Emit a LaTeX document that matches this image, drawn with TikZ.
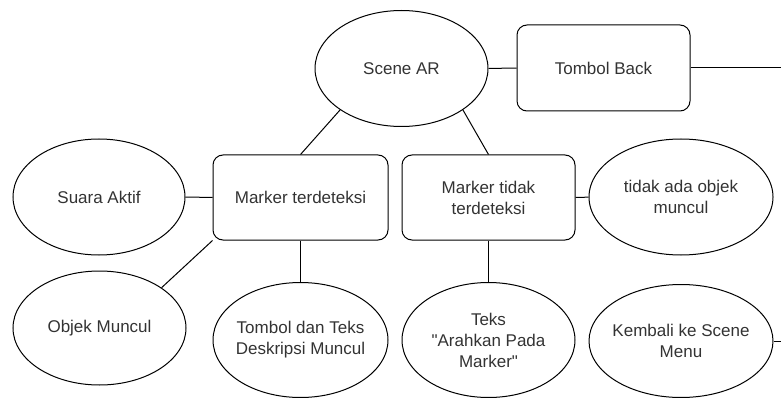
\documentclass[tikz,border=0pt]{standalone}
\usepackage{fontspec}
\setmainfont{Liberation Sans}
\usetikzlibrary{shapes.geometric}

\tikzset{
  elips/.style={draw, ellipse, inner xsep=-20pt, inner ysep=0pt,
    minimum width=173pt, minimum height=116pt, align=center},
  kotak/.style={draw, rectangle, rounded corners=10pt,
    minimum width=173pt, minimum height=86pt, align=center},
}

\begin{document}
\begin{tikzpicture}[x=1pt, y=-1pt, line width=1pt,
    every node/.style={font=\fontsize{17}{21}\selectfont, text=black!80}]
  \useasboundingbox (0,0) rectangle (781,398);

  % top row
  \node[elips] (scene) at (401.5,68.5) {Scene AR};
  \node[kotak] (back) at (603.5,68) {Tombol Back};
  \coordinate (backend) at (781,68);

  % middle row
  \node[elips, minimum width=172pt] (suara) at (99,197) {Suara Aktif};
  \node[kotak, minimum width=175pt, minimum height=85pt] (mt) at (300.5,197.5) {Marker terdeteksi};
  \node[kotak, minimum height=85pt] (mtt) at (488.5,197.5) {Marker tidak\\terdeteksi};
  \node[elips, minimum width=184pt] (kosong) at (681,197) {tidak ada objek\\muncul};

  % bottom row
  \node[elips, minimum height=114pt] (objek) at (99.5,328) {Objek Muncul};
  \node[elips, minimum width=175pt, minimum height=115pt] (deskripsi) at (300.5,340) {Tombol dan Teks\\Deskripsi Muncul};
  \node[elips, minimum height=115pt] (arahkan) at (488.5,340) {Teks\\\textquotedbl Arahkan Pada\\Marker\textquotedbl};
  \node[elips, minimum width=184pt, minimum height=113pt] (kembali) at (681,341) {Kembali ke Scene\\Menu};
  \coordinate (kembaliend) at (781,341);

  % connectors
  \draw (scene) -- (back);
  \draw (back) -- (backend);
  \draw (scene.-146) -- (mt.north);
  \draw (scene.-34) -- (mtt.north);
  \draw (suara) -- (mt);
  \draw (mtt) -- (kosong);
  \draw (objek.33) -- (mt.south west);
  \foreach \a/\b in {mt/deskripsi, mtt/arahkan}
    \draw (\a.south) -- (\b.north);
  \draw (kembali) -- (kembaliend);
\end{tikzpicture}
\end{document}
